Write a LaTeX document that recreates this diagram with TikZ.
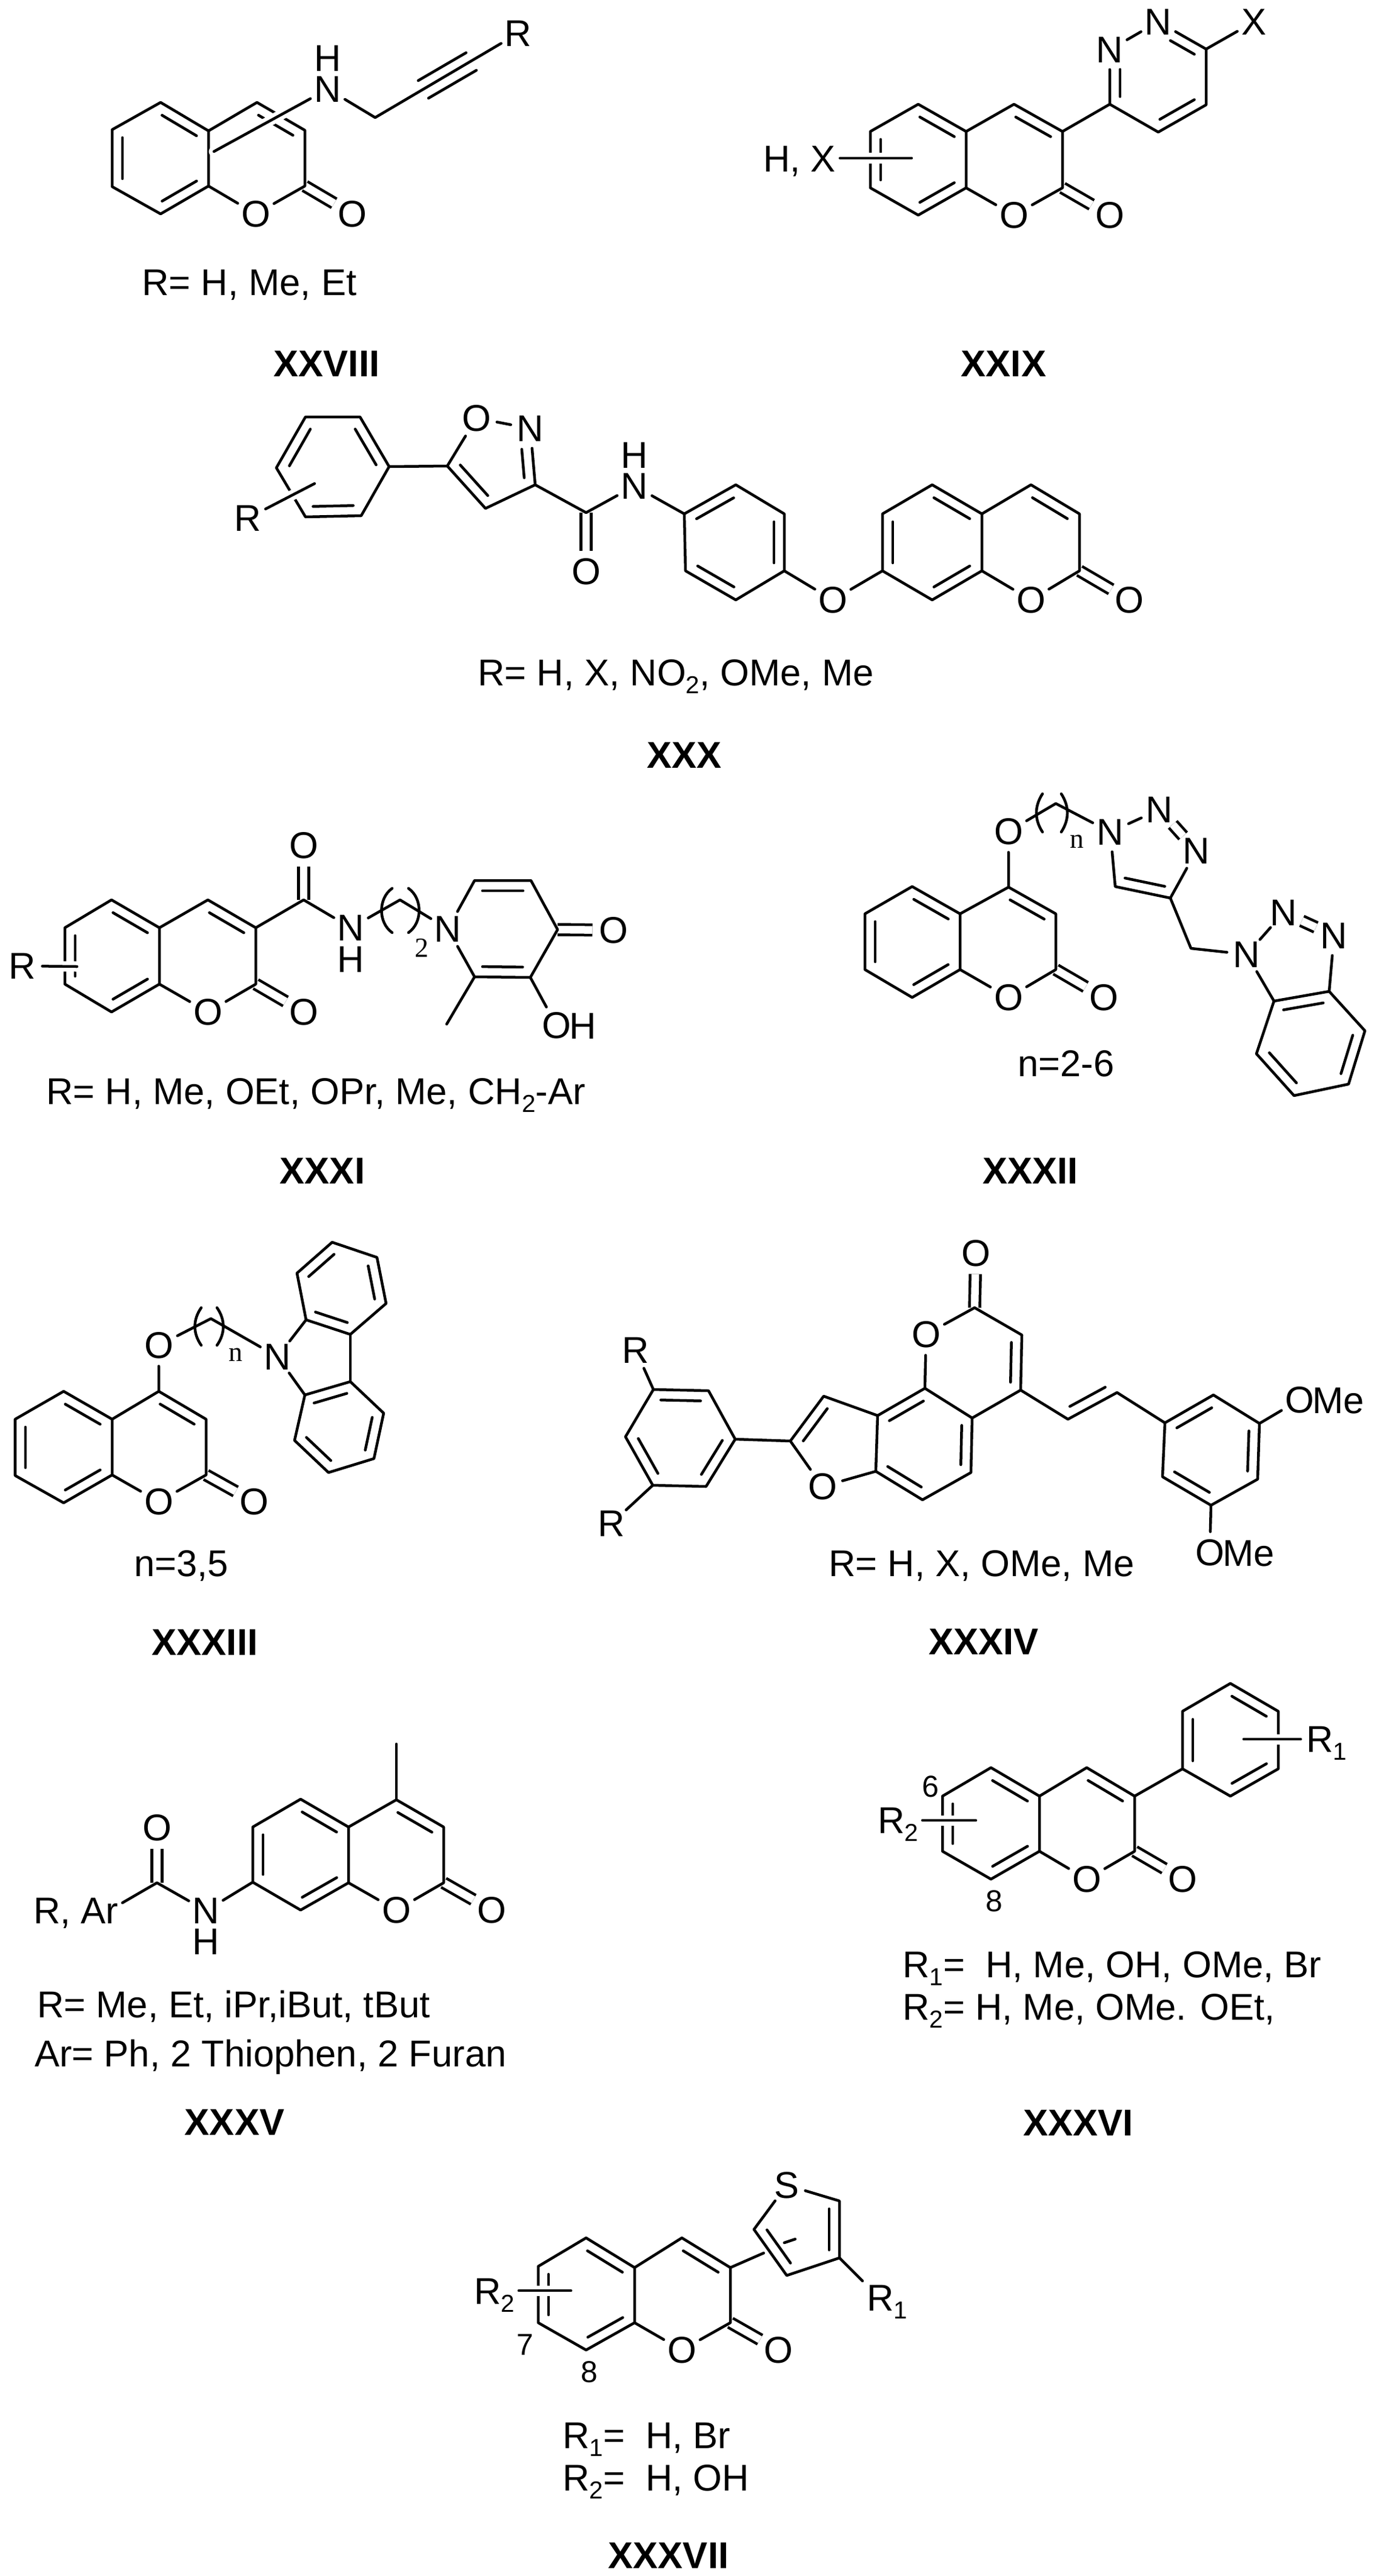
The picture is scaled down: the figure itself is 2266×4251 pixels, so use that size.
\documentclass[tikz,border=0pt]{standalone}
\usepackage{fontspec}
\setmainfont{Liberation Sans}
\newfontfamily\chainfont{Liberation Serif}
\usetikzlibrary{calc}
\newcommand{\sbs}[1]{\raisebox{-0.22em}{\fontsize{11.5}{12}\selectfont #1}}
\newcommand{\pts}[1]{\foreach \n/\x/\y in {#1}{\coordinate (\n) at (\x,\y);}}
\newcommand{\inb}[2][]{\foreach \p/\q in {#2}{\draw [#1] ($(\p)!0.14!(\q)!0.17cm!90:(\q)$) -- ($(\q)!0.14!(\p)!0.17cm!-90:(\p)$);}}
\newcommand{\coumarin}[1]{
\draw [dbl] (#1i) -- (#1x);
\draw (#1a)--(#1b)--(#1c)--(#1d)--(#1e)--(#1f)--cycle;
\draw (#1f)--(#1g)--(#1h)--(#1i)--(#1o)--(#1e);
\inb{#1b/#1c,#1d/#1e,#1f/#1a,#1h/#1g}
}
\tikzset{
	atom/.style={circle,inner sep=0pt,font=\fontsize{17.5}{20}\selectfont},
	txt/.style={anchor=base west,xshift=-0.05cm,inner sep=0pt,font=\fontsize{17.5}{20}\selectfont},
	num/.style={inner sep=0pt,font=\fontsize{14.2}{16}\selectfont},
	chain/.style={inner sep=0pt,font=\chainfont\fontsize{13}{15}\selectfont},
	title/.style={anchor=base,inner sep=0pt,font=\bfseries\fontsize{17.5}{20}\selectfont},
	dbl/.style={double,double distance=0.125cm,line cap=butt},
	halo/.style={preaction={draw,white,line width=0.17cm}}
}
\begin{document}
\begin{tikzpicture}[x=0.01cm,y=-0.01cm,line width=0.045cm,line cap=round,line join=round]
\useasboundingbox (0,0) rectangle (2266,4251);

\pts{s28a/265/169,s28b/185/214,s28c/185/308,s28d/265/353,s28e/344/307,s28f/344/216,s28g/424/169,s28h/503/215,s28i/503/307,s28m/619/194,s28u/353/250,s28t1/690/133,s28t2/769/87,s28t3/707/162,s28t4/786/116}
\node [atom] (s28o) at (422,353) {O};
\node [atom] (s28x) at (581,353) {O};
\node [atom] (s28n) at (541,147) {N};
\node [atom] (s28nh) at (541,96) {H};
\node [atom] (s28r) at (855,55) {R};
\coumarin{s28}
\draw [halo] (s28n) -- (s28u);
\draw (s28n) -- (s28m) -- (s28r);
\draw (s28t1) -- (s28t2);
\draw (s28t3) -- (s28t4);
\node [txt] (s28l) at (237,487) {R= H, Me, Et};
\node [title] (s28y) at (539,621) {XXVIII};

\pts{s29a/1515/172,s29b/1436/217,s29c/1436/310,s29d/1515/355,s29e/1594/310,s29f/1594/217,s29g/1673/172,s29h/1753/217,s29i/1753/310,s29p/1831/172,s29q/1990/81,s29s/1990/173,s29t/1911/218,s29u/1386/261,s29v/1504/261}
\node [atom] (s29o) at (1673,355) {O};
\node [atom] (s29x) at (1831,355) {O};
\node [atom] (s29n1) at (1831,82) {N};
\node [atom] (s29n2) at (1911,36) {N};
\node [atom] (s29r) at (2069,36) {X};
\coumarin{s29}
\draw (s29h) -- (s29p) -- (s29n1) -- (s29n2) -- (s29q);
\draw (s29q) -- (s29s) -- (s29t) -- (s29p);
\draw (s29q) -- (s29r);
\inb[shorten <=0.2cm]{s29n1/s29p}
\inb[shorten >=0.2cm]{s29q/s29n2}
\inb{s29t/s29s}
\draw [halo] (s29u) -- (s29v);
\node [txt] (s29l) at (1262,283) {H, X};
\node [title] (s29y) at (1656,621) {XXIX};

\pts{s30a/1538/800,s30b/1456/848,s30c/1456/942,s30d/1538/990,s30e/1620/942,s30f/1620/848,s30g/1701/800,s30h/1781/848,s30i/1781/942,s30q1/504/688,s30q2/456/772,s30q3/504/853,s30q4/596/851,s30q5/642/770,s30q6/594/688,s30j/738/769,s30k/883/800,s30m/801/839,s30p/967/846,s30b1/1129/848,s30b2/1214/800,s30b3/1294/848,s30b4/1294/942,s30b5/1214/990,s30b6/1131/942,s30u/519/798}
\node [atom] (s30o) at (1701,990) {O};
\node [atom] (s30x) at (1863,990) {O};
\node [atom] (s30o1) at (786,690) {O};
\node [atom] (s30n1) at (875,707) {N};
\node [atom] (s30o2) at (967,943) {O};
\node [atom] (s30n2) at (1047,802) {N};
\node [atom] (s30nh) at (1047,751) {H};
\node [atom] (s30o3) at (1374,990) {O};
\node [atom] (s30r) at (409,855) {R};
\draw [dbl] (s30p) -- (s30o2);
\coumarin{s30}
\draw (s30q1)--(s30q2)--(s30q3)--(s30q4)--(s30q5)--(s30q6)--cycle;
\inb{s30q1/s30q2,s30q3/s30q4,s30q5/s30q6}
\draw [halo] (s30u) -- (s30r);
\draw (s30q5) -- (s30j) -- (s30o1) -- (s30n1) -- (s30k) -- (s30m) -- (s30j);
\inb{s30j/s30m}
\inb[shorten >=0.2cm]{s30k/s30n1}
\draw (s30k) -- (s30p) -- (s30n2) -- (s30b1);
\draw (s30b1)--(s30b2)--(s30b3)--(s30b4)--(s30b5)--(s30b6)--cycle;
\inb{s30b2/s30b1,s30b6/s30b5,s30b4/s30b3}
\draw (s30b4) -- (s30o3) -- (s30c);
\node [txt] (s30l) at (791,1131) {R= H, X, NO\sbs{2}, OMe, Me};
\node [title] (s30y) at (1129,1267) {XXX};

\pts{s31a/184/1485,s31b/107/1531,s31c/107/1624,s31d/184/1670,s31e/263/1624,s31f/263/1531,s31g/343/1485,s31h/422/1531,s31i/422/1624,s31p/501/1485,s31m/660/1485,s31r1/783/1453,s31r2/876/1453,s31r3/920/1534,s31r4/875/1613,s31r5/783/1612,s31me/737/1690,s31u/127/1595,s31pa/647/1466,s31pb/647/1539,s31pc/674/1466,s31pd/674/1539}
\node [atom] (s31o) at (343,1670) {O};
\node [atom] (s31x) at (501,1670) {O};
\node [atom] (s31o1) at (501,1395) {O};
\node [atom] (s31n1) at (579,1531) {N};
\node [atom] (s31nh) at (579,1583) {H};
\node [atom] (s31n2) at (739,1533) {N};
\node [atom] (s31o2) at (1012,1535) {O};
\node [atom] (s31o3) at (918,1692) {O};
\node [txt] (s31oh) at (942,1714) {H};
\node [atom] (s31r) at (37,1594) {R};
\node [chain] (s31k) at (696,1564) {2};
\draw [dbl] (s31p) -- (s31o1);
\draw [dbl] (s31r3) -- (s31o2);
\coumarin{s31}
\draw [halo] (s31r) -- (s31u);
\draw (s31h) -- (s31p) -- (s31n1) -- (s31m) -- (s31n2) -- (s31r1) -- (s31r2) -- (s31r3) -- (s31r4) -- (s31r5) -- (s31n2);
\inb{s31r5/s31r4,s31r2/s31r1}
\draw (s31r5) -- (s31me);
\draw (s31r4) -- (s31o3);
\draw [bend right=55] (s31pa) to (s31pb);
\draw [bend left=55] (s31pc) to (s31pd);
\node [txt] (s31l) at (79,1822) {R= H, Me, OEt, OPr, Me, CH\sbs{2}-Ar};
\node [title] (s31y) at (532,1953) {XXXI};

\pts{s32a/1505/1463,s32b/1427/1508,s32c/1427/1600,s32d/1505/1646,s32e/1584/1600,s32f/1584/1508,s32g/1664/1464,s32h/1742/1508,s32i/1742/1600,s32m/1742/1326,s32t1/1931/1482,s32t2/1840/1463,s32k/1965/1565,s32z1/2193/1636,s32z2/2102/1652,s32z3/2073/1739,s32z4/2135/1808,s32z5/2225/1789,s32z6/2252/1701,s32pa/1720/1310,s32pb/1720/1373,s32pc/1751/1310,s32pd/1751/1373}
\node [atom] (s32o) at (1664,1646) {O};
\node [atom] (s32x) at (1821,1646) {O};
\node [atom] (s32o1) at (1664,1372) {O};
\node [atom] (s32n1) at (1832,1373) {N};
\node [atom] (s32n2) at (1913,1336) {N};
\node [atom] (s32n3) at (1974,1404) {N};
\node [atom] (s32n4) at (2057,1575) {N};
\node [atom] (s32n5) at (2118,1506) {N};
\node [atom] (s32n6) at (2201,1544) {N};
\node [chain] (s32k1) at (1777,1389) {n};
\coumarin{s32}
\draw (s32g) -- (s32o1) -- (s32m) -- (s32n1) -- (s32n2);
\draw [dbl] (s32n2) -- (s32n3);
\draw (s32n3) -- (s32t1) -- (s32t2) -- (s32n1);
\inb{s32t2/s32t1}
\draw (s32t1) -- (s32k) -- (s32n4) -- (s32n5);
\draw [dbl] (s32n5) -- (s32n6);
\draw (s32n6) -- (s32z1);
\draw (s32z2) -- (s32n4);
\draw (s32z1)--(s32z2)--(s32z3)--(s32z4)--(s32z5)--(s32z6)--cycle;
\inb{s32z1/s32z2,s32z3/s32z4,s32z5/s32z6}
\draw [bend right=33] (s32pa) to (s32pb);
\draw [bend left=33] (s32pc) to (s32pd);
\node [txt] (s32l) at (1682,1776) {n=2-6};
\node [title] (s32y) at (1700,1953) {XXXII};

\pts{s33a/105/2296,s33b/25/2342,s33c/25/2435,s33d/105/2480,s33e/185/2434,s33f/185/2342,s33g/262/2296,s33h/340/2342,s33i/340/2434,s33m/348/2176,s33u1/505/2178,s33u2/490/2101,s33u3/548/2050,s33u4/622/2075,s33u5/637/2151,s33u6/578/2202,s33l1/503/2302,s33l2/486/2377,s33l3/542/2430,s33l4/617/2407,s33l5/633/2332,s33l6/578/2280,s33pa/332/2158,s33pb/332/2220,s33pc/358/2158,s33pd/358/2220}
\node [atom] (s33o) at (262,2478) {O};
\node [atom] (s33x) at (419,2478) {O};
\node [atom] (s33o1) at (262,2220) {O};
\node [atom] (s33n) at (458,2239) {N};
\node [chain] (s33k) at (389,2236) {n};
\coumarin{s33}
\draw (s33g) -- (s33o1) -- (s33m) -- (s33n) -- (s33u1);
\draw (s33n) -- (s33l1);
\draw (s33u1)--(s33u2)--(s33u3)--(s33u4)--(s33u5)--(s33u6)--cycle;
\draw (s33l1)--(s33l2)--(s33l3)--(s33l4)--(s33l5)--(s33l6)--cycle;
\draw (s33u6) -- (s33l6);
\inb{s33u1/s33u6,s33u5/s33u4,s33u3/s33u2,s33l6/s33l1,s33l2/s33l3,s33l4/s33l5}
\draw [bend right=35] (s33pa) to (s33pb);
\draw [bend left=35] (s33pc) to (s33pd);
\node [txt] (s33t) at (224,2601) {n=3,5};
\node [title] (s33y) at (338,2731) {XXXIII};

\pts{s34c2/1608/2158,s34c3/1686/2203,s34c4/1684/2294,s34ca/1526/2291,s34cb/1604/2340,s34cc/1448/2336,s34cd/1445/2428,s34c6/1522/2475,s34c5/1602/2430,s34f1/1359/2304,s34f2/1304/2378,s34p1/1213/2375,s34p2/1169/2295,s34p3/1078/2293,s34p4/1032/2371,s34p5/1077/2451,s34p6/1165/2453,s34v1/1762/2342,s34v2/1843/2298,s34a1/1922/2348,s34a2/2002/2302,s34a3/2078/2349,s34a4/2075/2441,s34a5/1998/2484,s34a6/1918/2437}
\node [atom] (s34x) at (1610,2068) {O};
\node [atom] (s34o) at (1528,2202) {O};
\node [atom] (s34o1) at (1357,2453) {O};
\node [atom] (s34r1) at (1049,2228) {R};
\node [atom] (s34r2) at (1009,2514) {R};
\node [atom] (s34o2) at (2144,2310) {O};
\node [txt] (s34m2) at (2168,2332) {Me};
\node [atom] (s34o3) at (1996,2562) {O};
\node [txt] (s34m3) at (2020,2584) {Me};
\draw [dbl] (s34c2) -- (s34x);
\draw (s34c2) -- (s34o) -- (s34ca) -- (s34cb) -- (s34c4) -- (s34c3) -- (s34c2);
\draw (s34ca)--(s34cc)--(s34cd)--(s34c6)--(s34c5)--(s34cb);
\inb{s34c4/s34c3,s34ca/s34cc,s34cd/s34c6,s34c5/s34cb}
\draw (s34cc) -- (s34f1) -- (s34f2) -- (s34o1) -- (s34cd);
\inb{s34f1/s34f2}
\draw (s34f2) -- (s34p1);
\draw (s34p1)--(s34p2)--(s34p3)--(s34p4)--(s34p5)--(s34p6)--cycle;
\inb{s34p2/s34p3,s34p4/s34p5,s34p6/s34p1}
\draw (s34p3) -- (s34r1);
\draw (s34p5) -- (s34r2);
\draw (s34c4) -- (s34v1) -- (s34v2) -- (s34a1);
\inb{s34v1/s34v2}
\draw (s34a1)--(s34a2)--(s34a3)--(s34a4)--(s34a5)--(s34a6)--cycle;
\inb{s34a6/s34a5,s34a4/s34a3,s34a2/s34a1}
\draw (s34a3) -- (s34o2);
\draw (s34a5) -- (s34o3);
\node [txt] (s34l) at (1370,2601) {R= H, X, OMe, Me};
\node [title] (s34y) at (1623,2730) {XXXIV};

\pts{s35a/496/2969,s35b/417/3015,s35c/417/3106,s35d/496/3152,s35e/575/3107,s35f/575/3015,s35g/654/2970,s35h/732/3015,s35i/732/3107,s35me/654/2878,s35p/259/3107,s35u/202/3140}
\node [atom] (s35o) at (654,3152) {O};
\node [atom] (s35x) at (811,3152) {O};
\node [atom] (s35n) at (340,3153) {N};
\node [atom] (s35nh) at (340,3204) {H};
\node [atom] (s35o1) at (259,3016) {O};
\draw [dbl] (s35p) -- (s35o1);
\coumarin{s35}
\draw (s35g) -- (s35me);
\draw (s35c) -- (s35n) -- (s35p) -- (s35u);
\node [txt] (s35r) at (58,3174) {R, Ar};
\node [txt] (s35l1) at (64,3329) {R= Me, Et, iPr,iBut, tBut};
\node [txt] (s35l2) at (60,3410) {Ar= Ph, 2 Thiophen, 2 Furan};
\node [title] (s35y) at (387,3523) {XXXV};

\pts{s36a/1635/2917,s36b/1555/2964,s36c/1555/3055,s36d/1635/3101,s36e/1715/3055,s36f/1715/2964,s36g/1793/2917,s36h/1872/2964,s36i/1872/3055,s36p1/2030/2778,s36p2/1951/2824,s36p3/1951/2919,s36p4/2030/2964,s36p5/2109/2919,s36p6/2109/2824,s36u1/2052/2870,s36u2/2146/2870,s36u3/1522/3004,s36u4/1610/3004}
\node [atom] (s36o) at (1793,3101) {O};
\node [atom] (s36x) at (1951,3101) {O};
\coumarin{s36}
\draw (s36h) -- (s36p3);
\draw (s36p1)--(s36p2)--(s36p3)--(s36p4)--(s36p5)--(s36p6)--cycle;
\inb{s36p2/s36p3,s36p4/s36p5,s36p6/s36p1}
\draw [halo] (s36u1) -- (s36u2);
\draw [halo] (s36u3) -- (s36u4);
\node [txt] (s36r1) at (2158,2891) {R\sbs{1}};
\node [txt] (s36r2) at (1451,3025) {R\sbs{2}};
\node [num] (s36k1) at (1535,2948) {6};
\node [num] (s36k2) at (1640,3137) {8};
\node [txt] (s36l1) at (1492,3263) {R\sbs{1}=\ \ H, Me, OH, OMe, Br};
\node [txt] (s36l2) at (1492,3333) {R\sbs{2}= H, Me, OMe. OEt,};
\node [title] (s36y) at (1779,3524) {XXXVI};

\pts{s37a/967/3693,s37b/888/3740,s37c/888/3833,s37d/967/3878,s37e/1047/3833,s37f/1047/3742,s37g/1125/3693,s37h/1205/3742,s37i/1205/3833,s37t1/1244/3679,s37t2/1298/3755,s37t3/1385/3726,s37t4/1385/3632,s37u1/1260/3718,s37u2/1294/3701,s37u3/1312/3695,s37u4/1423/3764,s37u5/856/3780,s37u6/942/3780}
\node [atom] (s37o) at (1125,3878) {O};
\node [atom] (s37x) at (1284,3878) {O};
\node [atom] (s37s) at (1298,3606) {S};
\coumarin{s37}
\draw (s37s) -- (s37t1) -- (s37t2) -- (s37t3) -- (s37t4) -- (s37s);
\inb{s37t1/s37t2,s37t3/s37t4}
\draw (s37h) -- (s37u1);
\draw (s37u2) -- (s37u3);
\draw (s37t3) -- (s37u4);
\draw [halo] (s37u5) -- (s37u6);
\node [txt] (s37r1) at (1433,3813) {R\sbs{1}};
\node [txt] (s37r2) at (785,3802) {R\sbs{2}};
\node [num] (s37k1) at (866,3869) {7};
\node [num] (s37k2) at (972,3914) {8};
\node [txt] (s37l1) at (931,4040) {R\sbs{1}=\ \ H, Br};
\node [txt] (s37l2) at (931,4110) {R\sbs{2}=\ \ H, OH};
\node [title] (s37y) at (1103,4238) {XXXVII};
\end{tikzpicture}
\end{document}
